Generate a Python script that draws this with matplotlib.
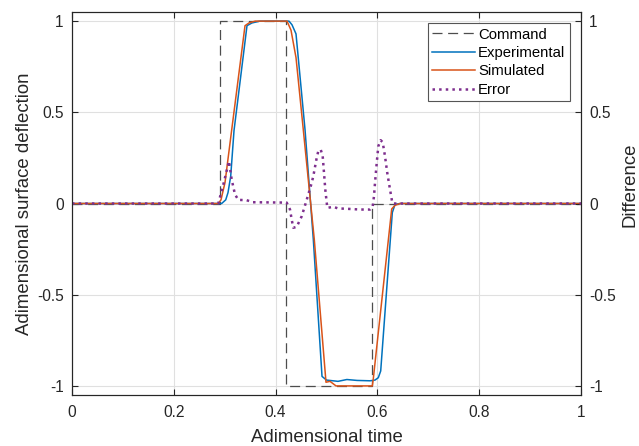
import matplotlib
matplotlib.use('Agg')
import matplotlib.pyplot as plt

plt.rcParams['font.family'] = ['Liberation Sans', 'DejaVu Sans']
plt.rcParams['axes.unicode_minus'] = False

# command signal
cmd_t = [0, 0.29, 0.29, 0.42, 0.42, 0.59, 0.59, 1]
cmd_v = [0, 0, 1, 1, -1, -1, 0, 0]

# experimental response
exp_t = [0, 0.294, 0.302, 0.3065, 0.3118, 0.3183, 0.3438, 0.3536, 0.369,
         0.4263, 0.4322, 0.4401, 0.4578, 0.4741, 0.4912, 0.500, 0.5226,
         0.540, 0.560, 0.5855, 0.5953, 0.6018, 0.6065, 0.6293, 0.6346,
         0.6444, 1]
exp_v = [0, 0, 0.02, 0.06, 0.15, 0.40, 0.975, 0.99, 1.0,
         1.0, 0.98, 0.93, 0.405, -0.197, -0.948, -0.968, -0.975,
         -0.965, -0.97, -0.972, -0.968, -0.955, -0.918, -0.05, -0.005,
         0, 0]

# simulated response
sim_t = [0, 0.2874, 0.2927, 0.3006, 0.3138, 0.3399, 0.3477, 0.360,
         0.4224, 0.4303, 0.4401, 0.4544, 0.4760, 0.4990, 0.5069, 0.5187,
         0.590, 0.592, 0.6281, 0.6346, 0.6444, 1]
sim_v = [0, 0, 0.02, 0.115, 0.405, 0.975, 0.99, 1.0,
         1.0, 0.95, 0.80, 0.405, -0.197, -0.98, -0.975, -1.0,
         -1.0, -0.96, -0.03, -0.01, 0, 0]

# error (right axis)
err_t = [0, 0.2874, 0.2973, 0.3084, 0.3138, 0.3202, 0.3267, 0.3432, 0.3556,
         0.4218, 0.4283, 0.4316, 0.4348, 0.4414, 0.4513, 0.4611, 0.4709,
         0.4741, 0.4807, 0.4839, 0.4886, 0.4925, 0.4951, 0.4976, 0.5016,
         0.5134, 0.5226, 0.5403, 0.5658, 0.5855, 0.5908, 0.5933, 0.5953,
         0.5986, 0.6018, 0.6065, 0.6104, 0.6149, 0.6194, 0.6248, 0.6293,
         0.6312, 1]
err_v = [0, 0, 0.104, 0.232, 0.13, 0.05, 0.02, 0.018, 0.007,
         0.005, -0.033, -0.088, -0.133, -0.128, -0.07, 0.02, 0.113,
         0.15, 0.25, 0.287, 0.296, 0.26, 0.168, 0.077, -0.024,
         -0.018, -0.027, -0.029, -0.033, -0.033, -0.015, 0.04, 0.113,
         0.22, 0.314, 0.347, 0.336, 0.26, 0.168, 0.077, 0.004,
         0, 0]

ticks_x = [0, 0.2, 0.4, 0.6, 0.8, 1]
ticks_y = [-1, -0.5, 0, 0.5, 1]
tick_lbl_y = ['-1', '-0.5', '0', '0.5', '1']

fig = plt.figure(figsize=(6.39, 4.46), dpi=100)
ax = fig.add_axes([0.1127, 0.1143, 0.7965, 0.8588])
ax2 = ax.twinx()

l1, = ax.plot(cmd_t, cmd_v, '--', color='#4d4d4d', lw=0.9, dashes=(8, 4.5))
l2, = ax.plot(exp_t, exp_v, color='#0072BD', lw=1.1)
l3, = ax.plot(sim_t, sim_v, color='#D95319', lw=1.1)
l4, = ax2.plot(err_t, err_v, ':', color='#7E2F8E', lw=1.8)

for a in (ax, ax2):
    a.set_xlim(0, 1)
    a.set_ylim(-1.05, 1.05)
    a.set_yticks(ticks_y)
    a.set_yticklabels(tick_lbl_y)
    for s in a.spines.values():
        s.set_color('#262626')
        s.set_linewidth(0.8)

ax.set_xticks(ticks_x)
ax.set_xticklabels(['0', '0.2', '0.4', '0.6', '0.8', '1'])
ax.grid(True, color='#e0e0e0', lw=0.8)
ax.set_axisbelow(True)
ax.tick_params(axis='both', direction='in', length=4, width=0.8,
               colors='#262626', labelsize=11.2, pad=6)
ax.tick_params(axis='x', top=True, pad=7)
ax2.tick_params(axis='y', direction='in', length=4, width=0.8,
                colors='#262626', labelsize=11.2, pad=6)

ax.set_xlabel('Adimensional time', fontsize=13.4, color='#262626', labelpad=7)
ax.set_ylabel('Adimensional surface deflection', fontsize=13.4, color='#262626')
ax.yaxis.set_label_coords(-0.076, 0.5)
ax2.set_ylabel('Difference', fontsize=13.4, color='#262626')
ax2.yaxis.set_label_coords(1.0805, 0.55)

leg = ax2.legend([l1, l2, l3, l4], ['Command', 'Experimental', 'Simulated', 'Error'],
                 loc='upper right', bbox_to_anchor=(0.978, 0.971), borderaxespad=0,
                 fontsize=10.7, fancybox=False, framealpha=1, edgecolor='#555555',
                 handlelength=2.9, handletextpad=0.2, labelspacing=0.3, borderpad=0.3)
leg.get_frame().set_linewidth(0.8)

fig.savefig('out.png', dpi=100)
